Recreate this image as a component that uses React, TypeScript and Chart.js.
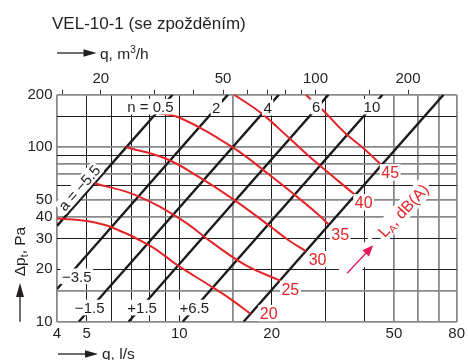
import React, { useEffect, useRef } from "react";
import { Chart, registerables } from "chart.js";

Chart.register(...registerables);

const FONT = '"Liberation Sans", Arial, Helvetica, sans-serif';
const INK = "#231f20";
const RED = "#e42528";
const ARROW = "#e8175d";
const GRAY = "#8a8a8a";

// ---- axes ----
const xGridValues = [4, 5, 6, 7, 8, 9, 10, 15, 20, 30, 40, 50, 60, 70, 80];
const xTickLabels = [4, 5, 10, 20, 50, 80];
const xGrayLines = [4, 15, 50, 60, 70, 80];
const yGridValues = [10, 15, 20, 30, 40, 50, 60, 70, 80, 90, 100, 150, 200];
const yTickLabels = [10, 20, 30, 40, 50, 100, 200];
const yGrayLines = [10, 15, 40, 50, 70, 80, 100, 200];
const topTickValues = [15, 20, 30, 40, 50, 60, 70, 80, 90, 100, 150, 200];
const topTickLabels = [20, 50, 100, 200];

// ---- damper setting lines [q l/s, Δp Pa] ----
const damper05 = [[4, 35.4], [9.51, 200]];
const damper2 = [[4, 15.4], [14.4, 200]];
const damper4 = [[4.71, 10], [21.1, 200]];
const damper6 = [[6.84, 10], [30.6, 200]];
const damper10 = [[10.26, 10], [45.9, 200]];
const damperOpen = [[16.2, 10], [72.5, 200]];
const damperNames = ["n = 0.5", "2", "4", "6", "10"];
const correctionNames = ["a = \u22125.5", "\u22123.5", "\u22121.5", "+1.5", "+6.5"];

// ---- noise curves L_A dB(A) [q l/s, Δp Pa] ----
const noiseLevels = [20, 25, 30, 35, 40, 45];
const noise20 = [[4, 39], [5, 37.8], [6, 34.9], [8, 27.4], [9.86, 21.1], [12.8, 15.8], [14.85, 13.3], [17.07, 11.1]];
const noise25 = [[5.31, 62], [7.24, 53], [10.23, 38.1], [12.8, 28.4], [16.44, 21.1], [21.3, 17.2]];
const noise30 = [[6.72, 100], [9.06, 85.9], [11.61, 67.4], [14.85, 50.9], [19.56, 35.7], [22.7, 29.3], [25.8, 25.4]];
const noise35 = [[8.45, 157], [10, 148], [14.85, 100.5], [19.56, 70], [25, 49.6], [28.4, 41], [30.6, 36.2]];
const noise40 = [[15.1, 200], [18.57, 155.8], [22.7, 113.6], [27.76, 82.5], [37.4, 53.2]];
const noise45 = [[25.8, 200], [29.47, 162], [34.6, 121], [40.2, 97], [45.5, 79]];

type Run = { t: string; size: number; dy?: number };

function drawRuns(
  ctx: CanvasRenderingContext2D,
  runs: Run[],
  x: number,
  y: number,
  color: string,
  opts: { rot?: number; align?: "left" | "center"; bg?: number } = {}
) {
  ctx.save();
  ctx.translate(x, y);
  ctx.rotate(opts.rot || 0);
  let total = 0;
  const widths = runs.map((r) => {
    ctx.font = `${r.size}px ${FONT}`;
    const w = ctx.measureText(r.t).width;
    total += w;
    return w;
  });
  const main = runs[0].size;
  const x0 = opts.align === "left" ? 0 : -total / 2;
  if (opts.bg != null) {
    const p = opts.bg;
    ctx.fillStyle = "#fff";
    ctx.fillRect(x0 - p, -main * 0.42 - p, total + 2 * p, main * 0.84 + 2 * p);
  }
  ctx.fillStyle = color;
  ctx.textAlign = "left";
  ctx.textBaseline = "alphabetic";
  let cx = x0;
  const base = main * 0.36;
  runs.forEach((r, i) => {
    ctx.font = `${r.size}px ${FONT}`;
    ctx.fillText(r.t, cx, base + (r.dy || 0));
    cx += widths[i];
  });
  ctx.restore();
}

function arrow(
  ctx: CanvasRenderingContext2D,
  x1: number,
  y1: number,
  x2: number,
  y2: number,
  color: string,
  headLen: number,
  headHalf: number,
  width: number
) {
  const a = Math.atan2(y2 - y1, x2 - x1);
  ctx.save();
  ctx.strokeStyle = color;
  ctx.fillStyle = color;
  ctx.lineWidth = width;
  ctx.beginPath();
  ctx.moveTo(x1, y1);
  ctx.lineTo(x2 - Math.cos(a) * headLen * 0.8, y2 - Math.sin(a) * headLen * 0.8);
  ctx.stroke();
  ctx.translate(x2, y2);
  ctx.rotate(a);
  ctx.beginPath();
  ctx.moveTo(0, 0);
  ctx.lineTo(-headLen, -headHalf);
  ctx.lineTo(-headLen, headHalf);
  ctx.closePath();
  ctx.fill();
  ctx.restore();
}

const annotationPlugin = {
  id: "velAnnotations",
  afterDatasetsDraw(chart: any) {
    const { ctx, scales } = chart;
    const X = (q: number) => scales.x.getPixelForValue(q);
    const Y = (p: number) => scales.y.getPixelForValue(p);

    // damper labels at the top
    const damperPos = [[8.06, 170.8], [13.2, 168.6], [19.4, 168.6], [27.9, 170.8], [42.4, 170.8]];
    damperNames.forEach((t, i) => {
      drawRuns(ctx, [{ t, size: 15 }], X(damperPos[i][0]), Y(damperPos[i][1]), INK, { bg: 1.5 });
    });

    // correction labels
    const corrPos = [[4.72, 58.5], [4.64, 18.2], [5.11, 12.05], [7.57, 12.05], [11.19, 12.05]];
    correctionNames.forEach((t, i) => {
      drawRuns(ctx, [{ t, size: 15 }], X(corrPos[i][0]), Y(corrPos[i][1]), INK, {
        bg: 1.5,
        rot: i === 0 ? -0.846 : 0,
      });
    });

    // noise level labels
    const noisePos = [[19.56, 11.2], [23.0, 15.4], [28.2, 22.8], [33.4, 31.9], [39.85, 48.3], [48.6, 71.7]];
    noiseLevels.forEach((lv, i) => {
      drawRuns(ctx, [{ t: String(lv), size: 16 }], X(noisePos[i][0]), Y(noisePos[i][1]), RED, { bg: 1.5 });
    });

    // L_A, dB(A) with arrow
    const rot = -0.82;
    const tx = X(35.2), ty = Y(18.97);
    const hx = X(42.8), hy = Y(27.4);
    ctx.save();
    ctx.translate((tx + hx) / 2, (ty + hy) / 2);
    ctx.rotate(rot);
    const len = Math.hypot(hx - tx, hy - ty);
    ctx.fillStyle = "#fff";
    ctx.fillRect(-len / 2 - 8, -8.5, len + 12, 17);
    ctx.restore();
    arrow(ctx, tx, ty, hx, hy, ARROW, 11, 4.5, 1.3);
    drawRuns(
      ctx,
      [
        { t: "L", size: 16 },
        { t: "A", size: 10.5, dy: 3 },
        { t: ", dB(A)", size: 16 },
      ],
      X(53.5),
      Y(43.5),
      RED,
      { rot, bg: 3 }
    );
  },
  afterDraw(chart: any) {
    const { ctx, chartArea } = chart;
    // title
    drawRuns(ctx, [{ t: "VEL-10-1 (se zpo\u017Ed\u011Bn\u00EDm)", size: 17 }], 52, 23, INK, { align: "left" });
    // top axis title
    arrow(ctx, chartArea.left, 53, 96.5, 53, INK, 13, 3.8, 1.3);
    drawRuns(
      ctx,
      [
        { t: "q, m", size: 15.5 },
        { t: "3", size: 10, dy: -6 },
        { t: "/h", size: 15.5 },
      ],
      100,
      53,
      INK,
      { align: "left" }
    );
    // bottom axis title
    arrow(ctx, chartArea.left + 1, 354, 98, 354, INK, 13, 3.8, 1.3);
    drawRuns(ctx, [{ t: "q, l/s", size: 15.5 }], 102, 353.5, INK, { align: "left" });
    // y axis title
    arrow(ctx, 20, chartArea.bottom, 20, 283, INK, 14, 4, 1.3);
    drawRuns(
      ctx,
      [
        { t: "\u0394p", size: 15.5 },
        { t: "t", size: 10.5, dy: 3 },
        { t: ", Pa", size: 15.5 },
      ],
      19.5,
      251.5,
      INK,
      { rot: -Math.PI / 2 }
    );
  },
};

const tickFont = { family: FONT, size: 15 };

export default function App() {
  const ref = useRef<HTMLCanvasElement>(null);

  useEffect(() => {
    const canvas = ref.current;
    if (!canvas) return;
    const toXY = (pts: number[][]) => pts.map(([x, y]) => ({ x, y }));
    const damperSets = [damper05, damper2, damper4, damper6, damper10, damperOpen].map((d) => ({
      data: toXY(d),
      borderColor: "#1a1a1a",
      borderWidth: 2.4,
      pointRadius: 0,
      tension: 0,
      order: 2,
    }));
    const noiseSets = [noise20, noise25, noise30, noise35, noise40, noise45].map((d) => ({
      data: toXY(d),
      borderColor: RED,
      borderWidth: 2,
      pointRadius: 0,
      tension: 0.4,
      order: 1,
    }));

    const gridStyle = (grays: number[]) => ({
      color: (c: any) => (c.tick && grays.includes(c.tick.value) ? GRAY : "#1f1f1f"),
      lineWidth: (c: any) => (c.tick && grays.includes(c.tick.value) ? 1.8 : 1),
      drawTicks: false,
    });

    const chart = new Chart(canvas, {
      type: "line",
      data: { datasets: [...noiseSets, ...damperSets] as any },
      options: {
        responsive: false,
        maintainAspectRatio: false,
        animation: false,
        devicePixelRatio: 1,
        layout: { padding: { left: 0, right: 9.3, top: 0, bottom: 0 } },
        plugins: { legend: { display: false }, tooltip: { enabled: false }, title: { display: false } },
        elements: { line: { borderCapStyle: "butt" } },
        scales: {
          x: {
            type: "logarithmic",
            position: "bottom",
            min: 4,
            max: 80,
            afterBuildTicks: (s: any) => {
              s.ticks = xGridValues.map((v) => ({ value: v }));
            },
            afterFit: (s: any) => {
              s.height = 38.3;
            },
            grid: gridStyle(xGrayLines),
            border: { display: false },
            ticks: {
              autoSkip: false,
              maxRotation: 0,
              minRotation: 0,
              padding: 3,
              color: INK,
              font: tickFont,
              callback: (v: any) => (xTickLabels.includes(Number(v)) ? String(v) : ""),
            },
          },
          x2: {
            type: "logarithmic",
            axis: "x",
            position: "top",
            min: 14.4,
            max: 288,
            afterBuildTicks: (s: any) => {
              s.ticks = topTickValues.map((v) => ({ value: v }));
            },
            afterFit: (s: any) => {
              s.height = 94.7;
            },
            grid: { drawOnChartArea: false, drawTicks: true, tickLength: 5, color: "#333", lineWidth: 1 },
            border: { display: false },
            ticks: {
              autoSkip: false,
              maxRotation: 0,
              minRotation: 0,
              padding: 1.5,
              color: INK,
              font: tickFont,
              callback: (v: any) => (topTickLabels.includes(Number(v)) ? String(v) : ""),
            },
          },
          y: {
            type: "logarithmic",
            position: "left",
            min: 10,
            max: 200,
            afterBuildTicks: (s: any) => {
              s.ticks = yGridValues.map((v) => ({ value: v }));
            },
            afterFit: (s: any) => {
              s.width = 57;
            },
            grid: gridStyle(yGrayLines),
            border: { display: false },
            ticks: {
              autoSkip: false,
              padding: 4.5,
              color: INK,
              font: tickFont,
              callback: (v: any) => (yTickLabels.includes(Number(v)) ? String(v) : ""),
            },
          },
        },
      } as any,
      plugins: [annotationPlugin],
    });
    return () => chart.destroy();
  }, []);

  return (
    <div style={{ position: "absolute", left: 0, top: 0, width: 468, height: 360, background: "#fff" }}>
      <canvas ref={ref} width={468} height={360} style={{ display: "block" }} />
    </div>
  );
}
